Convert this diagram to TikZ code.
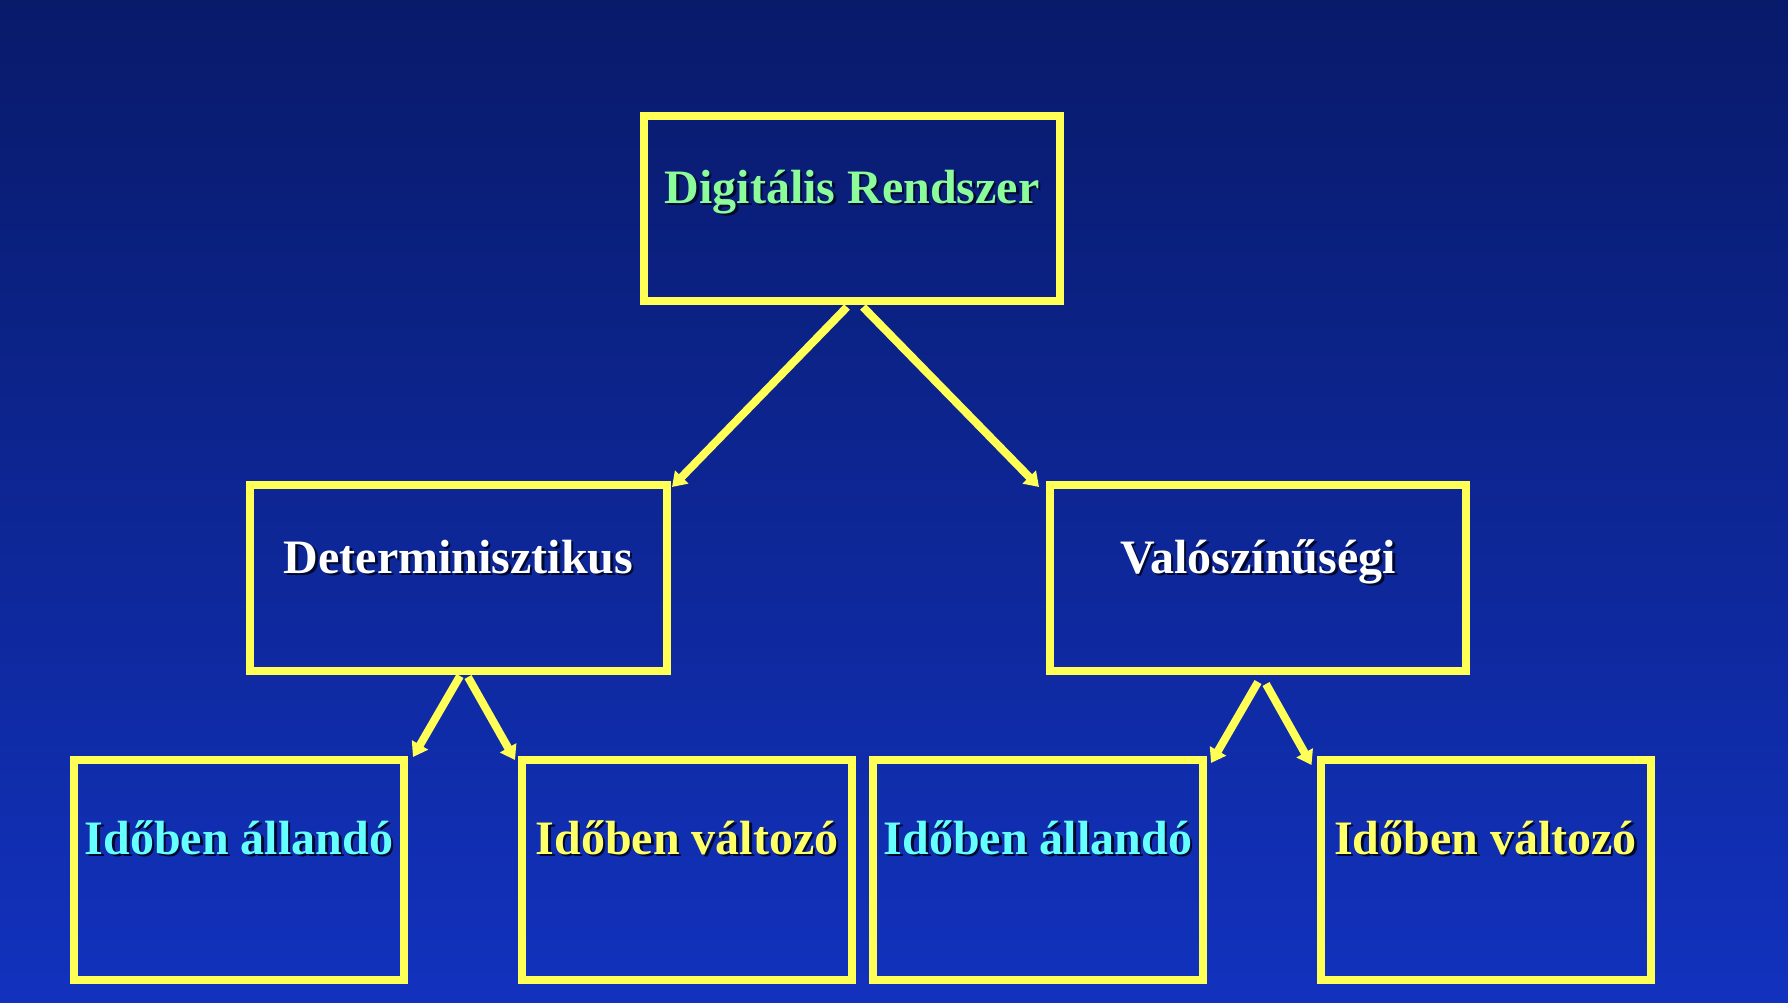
\documentclass[tikz,border=0pt]{standalone}
\usepackage{fontspec}
\setmainfont{Liberation Serif}
\usetikzlibrary{arrows.meta,calc}
\definecolor{bgtop}{HTML}{081A6A}
\definecolor{bgbot}{HTML}{1232BE}
\definecolor{boxyellow}{HTML}{FFFF55}
\definecolor{txtgreen}{HTML}{8CFC9A}
\definecolor{txtcyan}{HTML}{66FFFF}
\definecolor{txtyellow}{HTML}{FFFF66}
\definecolor{txtwhite}{HTML}{FFFFFF}
\definecolor{shadowc}{HTML}{000A30}
\newcommand{\shtext}[2]{\rlap{\kern2.5pt\raisebox{-2.5pt}{\textcolor{shadowc}{#2}}}\textcolor{#1}{#2}}
\begin{document}
\begin{tikzpicture}[x=1pt,y=-1pt,
  boxstyle/.style={draw=boxyellow, line width=8pt, inner sep=0pt},
  bigbox/.style={boxstyle, minimum width=416pt, minimum height=185pt},
  smallbox/.style={boxstyle, minimum width=330pt, minimum height=220pt},
  lbl/.style={anchor=base, inner sep=0pt, font=\bfseries\fontsize{48}{48}\selectfont},
  arr/.style={draw=boxyellow, line width=8pt, -{Triangle[length=14pt,width=18pt]}}
]
\shade[top color=bgtop, bottom color=bgbot] (0,0) rectangle (1788,1002);
\useasboundingbox (0,0) rectangle (1788,1002);

% boxes
\node[bigbox] (top) at (852,208.5) {};
\node[bigbox, minimum width=417pt, minimum height=186pt] (det) at (458.5,578) {};
\node[bigbox, minimum height=186pt] (valo) at (1258,578) {};
\node[smallbox] (b1) at (239,870) {};
\node[smallbox] (b2) at (687,870) {};
\node[smallbox] (b3) at (1038,870) {};
\node[smallbox] (b4) at (1485.5,870) {};

% labels
\node[lbl] (tTop) at (852,203) {\shtext{txtgreen}{Digitális Rendszer}};
\node[lbl] (tDet) at (458.5,573) {\shtext{txtwhite}{Determinisztikus}};
\node[lbl] (tValo) at (1258,573) {\shtext{txtwhite}{Valószínűségi}};
\node[lbl] (t1) at (239,854) {\shtext{txtcyan}{Időben állandó}};
\node[lbl] (t2) at (687,854) {\shtext{txtyellow}{Időben változó}};
\node[lbl] (t3) at (1038,854) {\shtext{txtcyan}{Időben állandó}};
\node[lbl] (t4) at (1485.5,854) {\shtext{txtyellow}{Időben változó}};

% arrows
\draw[arr] ($(top.south)+(-5,2)$) -- ($(det.north east)+(1,6)$);
\draw[arr] ($(top.south)+(11,2)$) -- ($(valo.north west)+(-7,6)$);
\draw[arr] ($(det.south)+(1.5,1)$) -- ($(b1.north east)+(5,1)$);
\draw[arr] ($(det.south)+(9.5,2)$) -- ($(b2.north west)+(-3,4)$);
\draw[arr] ($(valo.south)+(0,7)$) -- ($(b3.north east)+(4,7)$);
\draw[arr] ($(valo.south)+(8,9)$) -- ($(b4.north west)+(-5,9)$);
\end{tikzpicture}
\end{document}
